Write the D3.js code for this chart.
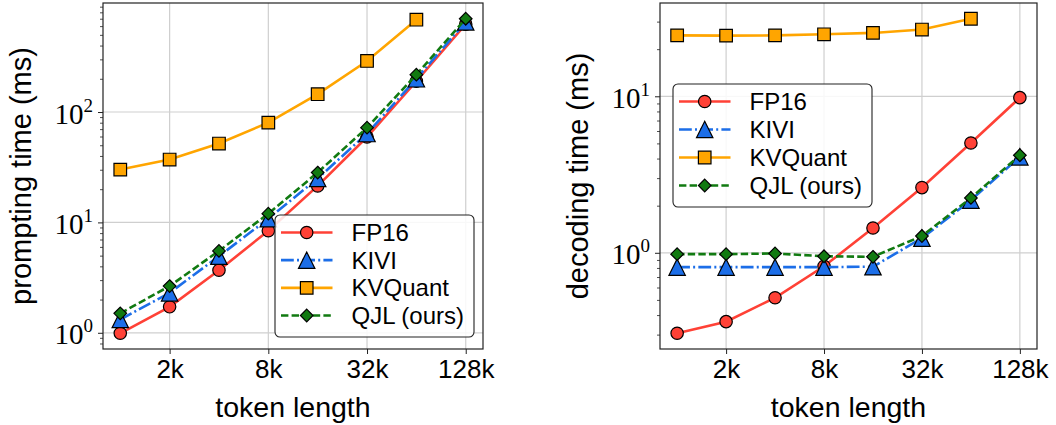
<!DOCTYPE html>
<html>
<head>
<meta charset="utf-8">
<script src="https://cdn.jsdelivr.net/npm/d3@7"></script>
<style>
  html, body { margin: 0; padding: 0; background: #fff; }
  svg { display: block; }
</style>
</head>
<body>
<svg id="chart" width="1056" height="425"></svg>
<script>
// ---------------- data ----------------
const tokens = [1024, 2048, 4096, 8192, 16384, 32768, 65536, 131072];
const xTickValues = [2048, 8192, 32768, 131072];
const xTickLabels = ["2k", "8k", "32k", "128k"];
const seriesNames = ["FP16", "KIVI", "KVQuant", "QJL (ours)"];

const promptFP16    = [0.99, 1.72, 3.69, 8.4, 21.4, 59.4, 190, 625];
const promptKIVI    = [1.32, 2.30, 4.94, 10.8, 25.0, 63.8, 200, 655];
const promptKVQuant = [30.1, 37.1, 51.8, 80.2, 145, 290, 686, null];
const promptQJL     = [1.50, 2.65, 5.52, 12.0, 28.3, 72.2, 218, 700];

const decodeFP16    = [0.306, 0.363, 0.516, 0.82, 1.44, 2.61, 5.03, 9.8];
const decodeKIVI    = [0.81, 0.81, 0.81, 0.81, 0.815, 1.24, 2.17, 4.1];
const decodeKVQuant = [24.5, 24.4, 24.5, 24.9, 25.4, 26.7, 31.3, null];
const decodeQJL     = [0.98, 0.98, 0.99, 0.95, 0.943, 1.28, 2.24, 4.2];

const yLabels = ["prompting time (ms)", "decoding time (ms)"];
const xLabel = "token length";

// ---------------- style ----------------
const styles = [
  { color: "#ff4136", dash: null,            marker: "circle"   },
  { color: "#1c6ee8", dash: "12.8,3.2,2,3.2", marker: "triangle" },
  { color: "#ffa500", dash: null,            marker: "square"   },
  { color: "#117a11", dash: "7.4,3.2",       marker: "diamond"  }
];

const markerTypes = {
  circle:   { draw(ctx) { const r = 6.2; ctx.moveTo(r, 0); ctx.arc(0, 0, r, 0, 2 * Math.PI); } },
  triangle: { draw(ctx) { const h = 8.2; ctx.moveTo(0, -h); ctx.lineTo(h, h); ctx.lineTo(-h, h); ctx.closePath(); } },
  square:   { draw(ctx) { const h = 6.3; ctx.moveTo(-h, -h); ctx.lineTo(h, -h); ctx.lineTo(h, h); ctx.lineTo(-h, h); ctx.closePath(); } },
  diamond:  { draw(ctx) { const h = 6.3; ctx.moveTo(0, -h); ctx.lineTo(h, 0); ctx.lineTo(0, h); ctx.lineTo(-h, 0); ctx.closePath(); } }
};

const panels = [
  { x0: 103, x1: 483, y0: 3, y1: 349, series: [promptFP16, promptKIVI, promptKVQuant, promptQJL],
    ylabelX: 31, legend: { x: 275, y: 215, w: 199, h: 122 } },
  { x0: 660, x1: 1037, y0: 3, y1: 349, series: [decodeFP16, decodeKIVI, decodeKVQuant, decodeQJL],
    ylabelX: 588, legend: { x: 673, y: 84, w: 199, h: 123 } }
];

const svg = d3.select("#chart");
const sansFont = "'Liberation Sans', Arial, Helvetica, sans-serif";
const serifFont = "'Liberation Serif', 'Times New Roman', serif";

panels.forEach((p, pi) => {
  // x scale, log2 with matplotlib-like 5% margins
  const lx = [Math.log2(d3.min(tokens)), Math.log2(d3.max(tokens))];
  const px = (lx[1] - lx[0]) * 0.05;
  const x = d3.scaleLog().base(2)
    .domain([Math.pow(2, lx[0] - px), Math.pow(2, lx[1] + px)])
    .range([p.x0, p.x1]);

  const allVals = p.series.flat().filter(v => v != null);
  const ly = [Math.log10(d3.min(allVals)), Math.log10(d3.max(allVals))];
  const py = (ly[1] - ly[0]) * 0.05;
  const y = d3.scaleLog()
    .domain([Math.pow(10, ly[0] - py), Math.pow(10, ly[1] + py)])
    .range([p.y1, p.y0]);

  const g = svg.append("g");

  // major y ticks (decades)
  const [dy0, dy1] = y.domain();
  const majors = [];
  for (let k = Math.ceil(Math.log10(dy0)); k <= Math.floor(Math.log10(dy1)); k++) majors.push(k);
  const minors = [];
  for (let k = Math.floor(Math.log10(dy0)); k <= Math.ceil(Math.log10(dy1)); k++) {
    for (let m = 2; m <= 9; m++) {
      const v = m * Math.pow(10, k);
      if (v >= dy0 && v <= dy1) minors.push(v);
    }
  }

  // grid
  const grid = g.append("g").attr("stroke", "#cfcfcf").attr("stroke-width", 1.2);
  xTickValues.forEach(v => grid.append("line")
    .attr("x1", x(v)).attr("x2", x(v)).attr("y1", p.y0).attr("y2", p.y1));
  majors.forEach(k => grid.append("line")
    .attr("x1", p.x0).attr("x2", p.x1).attr("y1", y(Math.pow(10, k))).attr("y2", y(Math.pow(10, k))));

  // axes via d3 axis
  const xAxis = d3.axisBottom(x).tickValues(xTickValues)
    .tickFormat((d, i) => xTickLabels[i]).tickSize(5).tickPadding(6);
  const xg = g.append("g").attr("transform", `translate(0,${p.y1})`).call(xAxis);
  xg.select(".domain").remove();
  xg.selectAll(".tick line").attr("stroke", "#222").attr("stroke-width", 1);
  xg.selectAll(".tick text").attr("font-family", sansFont).attr("font-size", 26)
    .attr("fill", "#000").attr("dy", "0.71em");

  const yMinorAxis = d3.axisLeft(y).tickValues(minors).tickSize(3).tickFormat("");
  const ymg = g.append("g").attr("transform", `translate(${p.x0},0)`).call(yMinorAxis);
  ymg.select(".domain").remove();
  ymg.selectAll(".tick line").attr("stroke", "#222").attr("stroke-width", 0.8);

  const yAxis = d3.axisLeft(y).tickValues(majors.map(k => Math.pow(10, k))).tickSize(5).tickFormat("");
  const yg = g.append("g").attr("transform", `translate(${p.x0},0)`).call(yAxis);
  yg.select(".domain").remove();
  yg.selectAll(".tick line").attr("stroke", "#222").attr("stroke-width", 1);
  yg.selectAll(".tick").each(function (d) {
    const t = d3.select(this).append("text")
      .attr("x", -10).attr("y", 11)
      .attr("text-anchor", "end")
      .attr("font-family", serifFont).attr("fill", "#000");
    t.append("tspan").attr("font-size", 29).text("10");
    t.append("tspan").attr("font-size", 19).attr("dy", -12).text(String(Math.round(Math.log10(d))));
  });

  // lines and markers
  const clip = "clip" + pi;
  g.append("clipPath").attr("id", clip).append("rect")
    .attr("x", p.x0).attr("y", p.y0).attr("width", p.x1 - p.x0).attr("height", p.y1 - p.y0);

  p.series.forEach((vals, si) => {
    const st = styles[si];
    const pts = tokens.map((t, i) => [t, vals[i]]).filter(d => d[1] != null);
    const line = d3.line().x(d => x(d[0])).y(d => y(d[1]));
    const sg = g.append("g");
    sg.append("path").datum(pts).attr("d", line)
      .attr("fill", "none").attr("stroke", st.color).attr("stroke-width", 2.6)
      .attr("stroke-dasharray", st.dash).attr("clip-path", `url(#${clip})`);
    sg.selectAll("path.m").data(pts).join("path").attr("class", "m")
      .attr("transform", d => `translate(${x(d[0])},${y(d[1])})`)
      .attr("d", d3.symbol().type(markerTypes[st.marker]))
      .attr("fill", st.color).attr("stroke", "#000").attr("stroke-width", 1.2);
  });

  // spines
  g.append("rect").attr("x", p.x0).attr("y", p.y0)
    .attr("width", p.x1 - p.x0).attr("height", p.y1 - p.y0)
    .attr("fill", "none").attr("stroke", "#222").attr("stroke-width", 1.2);

  // axis labels
  g.append("text").attr("x", (p.x0 + p.x1) / 2).attr("y", 417)
    .attr("text-anchor", "middle").attr("font-family", sansFont).attr("font-size", 28.5)
    .attr("fill", "#000").text(xLabel);
  g.append("text")
    .attr("transform", `translate(${p.ylabelX},${(p.y0 + p.y1) / 2}) rotate(-90)`)
    .attr("text-anchor", "middle").attr("font-family", sansFont).attr("font-size", 29)
    .attr("fill", "#000").text(yLabels[pi]);

  // legend
  const L = p.legend;
  const lg = g.append("g");
  lg.append("rect").attr("x", L.x).attr("y", L.y).attr("width", L.w).attr("height", L.h)
    .attr("rx", 5).attr("ry", 5)
    .attr("fill", "rgba(255,255,255,0.85)").attr("stroke", "#222").attr("stroke-width", 1.1);
  const rowY = d3.scalePoint().domain(d3.range(seriesNames.length))
    .range([L.y + 17.5, L.y + L.h - 21.5]);
  seriesNames.forEach((name, si) => {
    const st = styles[si];
    const cy = rowY(si);
    lg.append("line").attr("x1", L.x + 6).attr("x2", L.x + 57.5).attr("y1", cy).attr("y2", cy)
      .attr("stroke", st.color).attr("stroke-width", 2.6).attr("stroke-dasharray", st.dash);
    lg.append("path").attr("transform", `translate(${L.x + 31.7},${cy})`)
      .attr("d", d3.symbol().type(markerTypes[st.marker]))
      .attr("fill", st.color).attr("stroke", "#000").attr("stroke-width", 1.2);
    lg.append("text").attr("x", L.x + 76.5).attr("y", cy + 8.5)
      .attr("font-family", sansFont).attr("font-size", 24).attr("fill", "#000").text(name);
  });
});
</script>
</body>
</html>
